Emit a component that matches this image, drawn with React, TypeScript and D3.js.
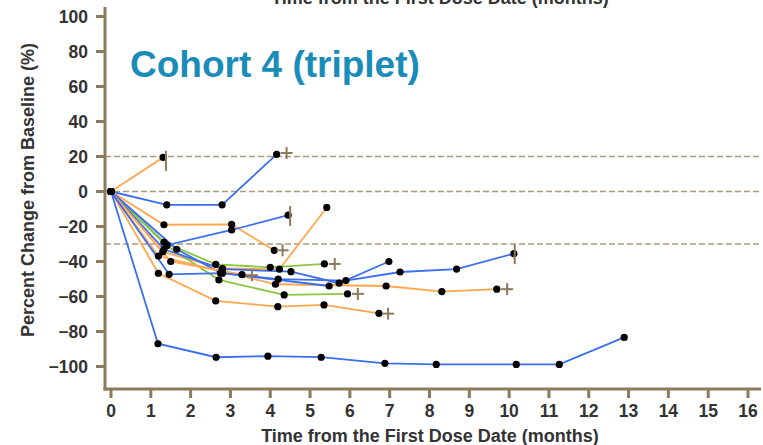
import * as d3 from 'd3';

const W = 763;
const H = 445;

const xTicks = d3.range(0, 17);
const yTicks = [100, 80, 60, 40, 20, 0, -20, -40, -60, -80, -100];
const refLevels = [20, 0, -30];

const BLUE = '#3b6ff0';
const ORANGE = '#ffa64f';
const GREEN = '#8cc63f';

// per-patient tracks [months, % change]
const pt01 = [[0, 0], [1.31, 19.5]];
const pt02 = [[0, 0], [1.4, -7.6], [2.79, -7.6], [4.16, 21.2]];
const pt03 = [[0, 0], [1.33, -19], [3.03, -18.8], [4.1, -33.6]];
const pt04 = [[0, 0], [1.41, -30.6], [3.03, -22], [4.45, -13.5]];
const pt05 = [[0, 0], [1.3, -34.5], [2.8, -44], [4.23, -44.4], [5.42, -9.1]];
const pt06 = [[0, 0], [1.33, -29], [2.63, -41.6], [4.0, -43.3], [5.36, -41.4]];
const pt07 = [[0, 0], [1.4, -31], [2.71, -50.5], [4.35, -59.1], [5.94, -58.5]];
const pt08 = [[0, 0], [1.33, -33], [2.8, -44.4], [4.52, -45.8], [5.73, -52.4], [6.98, -40]];
const pt09 = [[0, 0], [1.65, -33], [2.75, -46.5], [4.2, -50.1], [5.9, -50.9], [7.26, -46], [8.68, -44.3], [10.12, -35.5]];
const pt10 = [[0, 0], [1.5, -40], [3.29, -47.5]];
const pt11 = [[0, 0], [1.19, -36.9], [4.13, -53], [6.91, -54], [8.31, -57.2], [9.69, -55.8]];
const pt12 = [[0, 0], [1.19, -46.7], [2.63, -62.5], [4.19, -65.8], [5.35, -64.8], [6.73, -69.6]];
const pt13 = [[0, 0], [1.46, -47.3], [2.8, -46.7], [5.48, -54]];
const pt14 = [[0, 0], [1.18, -87], [2.64, -94.7], [3.94, -94.1], [5.28, -94.7], [6.88, -98.2], [8.17, -98.8], [10.18, -98.8], [11.26, -98.8], [12.89, -83.4]];

const seriesColors = [ORANGE, BLUE, ORANGE, BLUE, ORANGE, GREEN, GREEN, BLUE, BLUE, ORANGE, ORANGE, ORANGE, BLUE, BLUE];
const seriesData = [pt01, pt02, pt03, pt04, pt05, pt06, pt07, pt08, pt09, pt10, pt11, pt12, pt13, pt14];

const plusMarks = [[4.41, 22], [4.31, -33.6], [5.62, -41.4], [6.2, -58.5], [3.54, -47.8], [9.95, -55.8], [6.96, -69.8]];
const barMarks = [[1.38, 17.5], [4.5, -14], [10.14, -35.8]];

const FONT = '"Liberation Sans", Arial, sans-serif';
const AXIS = '#8c7b5b';
const DASH = '#a89a7b';
const TEXT = '#333333';

export default function App() {
  const x = d3.scaleLinear().domain([0, 16]).range([111, 748]);
  const y = d3.scaleLinear().domain([100, -100]).range([16.5, 366.5]);
  const line = d3.line<number[]>().x(d => x(d[0])).y(d => y(d[1]));

  const axisX = 105;
  const axisY = 389;

  return (
    <div style={{ position: 'fixed', left: 0, top: 0 }}>
      <svg width={W} height={H} style={{ display: 'block', fontFamily: FONT }}>
        <rect width={W} height={H} fill="#fff" />
        <text x={440} y={4} textAnchor="middle" fontSize={18} fontWeight="bold" fill={TEXT}>
          Time from the First Dose Date (months)
        </text>

        {refLevels.map(v => (
          <line key={v} x1={axisX} x2={762} y1={y(v)} y2={y(v)} stroke={DASH} strokeWidth={1.4} strokeDasharray="6,3" />
        ))}

        {seriesData.map((d, i) => (
          <path key={i} d={line(d) || ''} fill="none" stroke={seriesColors[i]} strokeWidth={1.8} />
        ))}

        {seriesData.map((d, i) =>
          d.map((p, j) => <circle key={`${i}-${j}`} cx={x(p[0])} cy={y(p[1])} r={3.6} fill="#000" />),
        )}

        {plusMarks.map((p, i) => (
          <g key={i} stroke={AXIS} strokeWidth={2}>
            <line x1={x(p[0]) - 6} x2={x(p[0]) + 6} y1={y(p[1])} y2={y(p[1])} />
            <line x1={x(p[0])} x2={x(p[0])} y1={y(p[1]) - 6} y2={y(p[1]) + 6} />
          </g>
        ))}
        {barMarks.map((p, i) => (
          <line key={i} x1={x(p[0])} x2={x(p[0])} y1={y(p[1]) - 10} y2={y(p[1]) + 10} stroke={AXIS} strokeWidth={2} />
        ))}

        {/* axes */}
        <line x1={axisX} x2={axisX} y1={7} y2={axisY + 1.5} stroke={AXIS} strokeWidth={3} />
        <line x1={axisX - 1.5} x2={761} y1={axisY} y2={axisY} stroke={AXIS} strokeWidth={3} />
        {yTicks.map(t => (
          <g key={t}>
            <line x1={axisX - 9} x2={axisX} y1={y(t)} y2={y(t)} stroke={AXIS} strokeWidth={3} />
            <text x={axisX - 17} y={y(t) + 6} textAnchor="end" fontSize={17.5} fontWeight="bold" fill={TEXT}>
              {t < 0 ? `\u2212${-t}` : t}
            </text>
          </g>
        ))}
        {xTicks.map(t => (
          <g key={t}>
            <line x1={axisX > 0 ? x(t) : 0} x2={x(t)} y1={axisY} y2={axisY + 9} stroke={AXIS} strokeWidth={3} />
            <text x={x(t)} y={417} textAnchor="middle" fontSize={17.5} fontWeight="bold" fill={TEXT}>
              {t}
            </text>
          </g>
        ))}
        <text x={430} y={442} textAnchor="middle" fontSize={18} fontWeight="bold" fill={TEXT}>
          Time from the First Dose Date (months)
        </text>
        <text
          transform={`translate(34,190) rotate(-90)`}
          textAnchor="middle"
          fontSize={18}
          fontWeight="bold"
          fill={TEXT}
        >
          Percent Change from Baseline (%)
        </text>

        <text x={130} y={77} fontSize={37} fontWeight="bold" fill="#1a8cb8">
          Cohort 4 (triplet)
        </text>
      </svg>
    </div>
  );
}
